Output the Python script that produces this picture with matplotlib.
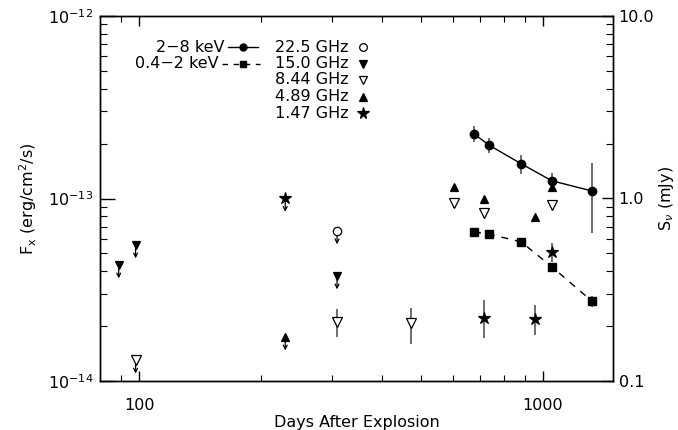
import matplotlib
matplotlib.use("Agg")
import matplotlib.pyplot as plt
from matplotlib.lines import Line2D
from matplotlib.ticker import FixedLocator, FixedFormatter, NullFormatter
import numpy as np

plt.rcParams['font.family'] = ['DejaVu Sans']
plt.rcParams['mathtext.fontset'] = 'dejavusans'

# ---------------- data ----------------
# X-ray 2-8 keV (erg/cm^2/s)
hard_days = [675, 735, 883, 1052, 1321]
hard_flux = [2.26e-13, 1.96e-13, 1.55e-13, 1.25e-13, 1.10e-13]
hard_lo = [2.04e-13, 1.77e-13, 1.36e-13, 1.11e-13, 6.5e-14]
hard_hi = [2.49e-13, 2.15e-13, 1.73e-13, 1.38e-13, 1.57e-13]

# X-ray 0.4-2 keV
soft_days = [675, 735, 883, 1052, 1321]
soft_flux = [6.55e-14, 6.38e-14, 5.78e-14, 4.22e-14, 2.74e-14]
soft_lo = [6.4e-14, 6.25e-14, 5.65e-14, 4.1e-14, 2.54e-14]
soft_hi = [6.7e-14, 6.5e-14, 5.9e-14, 4.35e-14, 2.92e-14]

# Radio (mJy)
r225_days = [309]
r225_flux = [0.664]
r225_upper = [True]

r150_days = [89, 98, 309]
r150_flux = [0.432, 0.556, 0.376]
r150_upper = [True, True, True]

r844_days = [98, 309, 471, 602, 715, 1055]
r844_flux = [0.130, 0.210, 0.208, 0.95, 0.834, 0.92]
r844_lo = [0.130, 0.174, 0.160, 0.89, 0.78, 0.866]
r844_hi = [0.130, 0.249, 0.252, 1.01, 0.89, 0.98]
r844_upper = [True, False, False, False, False, False]

r489_days = [230, 602, 715, 955, 1055]
r489_flux = [0.174, 1.156, 0.993, 0.79, 1.156]
r489_upper = [True, False, False, False, False]

r147_days = [230, 715, 955, 1055]
r147_flux = [1.0, 0.221, 0.219, 0.511]
r147_lo = [1.0, 0.172, 0.178, 0.45]
r147_hi = [1.0, 0.278, 0.26, 0.57]
r147_upper = [True, False, False, False]

x_ticks = [100, 1000]
x_tick_labels = ["100", "1000"]
f_ticks = [1e-14, 1e-13, 1e-12]
f_tick_labels = [r"$10^{-14}$", r"$10^{-13}$", r"$10^{-12}$"]
s_ticks = [0.1, 1.0, 10.0]
s_tick_labels = ["0.1", "1.0", "10.0"]

# ---------------- figure ----------------
W, H = 678, 430
fig = plt.figure(figsize=(W / 100, H / 100), dpi=100)
L, R, T, B = 100, 613, 16, 381
ax = fig.add_axes([L / W, 1 - B / H, (R - L) / W, (B - T) / H])
ax.set_xscale('log')
ax.set_yscale('log')
ax.set_xlim(80, 1490)
ax.set_ylim(1e-14, 1e-12)
ax2 = ax.twinx()
ax2.set_yscale('log')
ax2.set_ylim(0.1, 10)

ERRC = '#555555'
FS = 11.5

# X-ray
ax.plot(hard_days, hard_flux, '-', color='black', lw=1.0, zorder=3)
ax.errorbar(hard_days, hard_flux,
            yerr=[np.array(hard_flux) - np.array(hard_lo), np.array(hard_hi) - np.array(hard_flux)],
            fmt='o', ms=6, color='black', ecolor=ERRC, elinewidth=1.2, capsize=0, zorder=4)
ax.plot(soft_days, soft_flux, color='black', lw=1.0, ls=(0, (5, 5)), zorder=3)
ax.errorbar(soft_days, soft_flux,
            yerr=[np.array(soft_flux) - np.array(soft_lo), np.array(soft_hi) - np.array(soft_flux)],
            fmt='s', ms=5.5, color='black', ecolor=ERRC, elinewidth=1.2, capsize=0, zorder=4)


def radio(days, flux, upper, marker, ms, filled, lo=None, hi=None):
    days = np.array(days, float)
    flux = np.array(flux, float)
    upper = np.array(upper, bool)
    if lo is not None:
        lo = np.array(lo, float)
        hi = np.array(hi, float)
        det = ~upper
        ax2.errorbar(days[det], flux[det], yerr=[flux[det] - lo[det], hi[det] - flux[det]],
                     fmt='none', ecolor=ERRC, elinewidth=1.2, capsize=0, zorder=3)
    for d, f, u in zip(days, flux, upper):
        if u:
            ax2.annotate('', xy=(d, f * 0.845), xytext=(d, f), xycoords='data', textcoords='data',
                         arrowprops=dict(arrowstyle='->', lw=0.9, color='black',
                                         shrinkA=0, shrinkB=0, mutation_scale=7), zorder=3)
    ax2.plot(days, flux, ls='none', marker=marker, ms=ms,
             mfc='black' if filled else 'white', mec='black', mew=0.9, zorder=4)


radio(r225_days, r225_flux, r225_upper, 'o', 6, False)
radio(r150_days, r150_flux, r150_upper, 'v', 6, True)
radio(r844_days, r844_flux, r844_upper, 'v', 6.5, False, r844_lo, r844_hi)
radio(r489_days, r489_flux, r489_upper, '^', 6, True)
radio(r147_days, r147_flux, r147_upper, '*', 9, True, r147_lo, r147_hi)

# ---------------- axes styling ----------------
def minor_in(lo, hi):
    vals = []
    for dec in range(int(np.floor(np.log10(lo))), int(np.ceil(np.log10(hi))) + 1):
        for m in range(2, 10):
            v = m * 10.0 ** dec
            if lo < v < hi:
                vals.append(v)
    return vals


ax.xaxis.set_major_locator(FixedLocator(x_ticks))
ax.xaxis.set_major_formatter(FixedFormatter(x_tick_labels))
ax.xaxis.set_minor_locator(FixedLocator(minor_in(80, 1490)))
ax.xaxis.set_minor_formatter(NullFormatter())

ax.yaxis.set_major_locator(FixedLocator(f_ticks))
ax.yaxis.set_major_formatter(FixedFormatter(f_tick_labels))
ax.yaxis.set_minor_locator(FixedLocator(minor_in(1e-14, 1e-12)))
ax.yaxis.set_minor_formatter(NullFormatter())

ax2.yaxis.set_major_locator(FixedLocator(s_ticks))
ax2.yaxis.set_major_formatter(FixedFormatter(s_tick_labels))
ax2.yaxis.set_minor_locator(FixedLocator(minor_in(0.1, 10)))
ax2.yaxis.set_minor_formatter(NullFormatter())

for a in (ax, ax2):
    for sp in a.spines.values():
        sp.set_linewidth(1.0)
ax.tick_params(axis='x', which='both', direction='in', top=True, bottom=True, labelsize=FS, pad=12)
ax.tick_params(axis='x', which='major', length=7, width=1.0)
ax.tick_params(axis='x', which='minor', length=4, width=0.8)
ax.tick_params(axis='y', which='both', direction='in', left=True, right=False, labelsize=FS, pad=5)
ax.tick_params(axis='y', which='major', length=11, width=1.0)
ax.tick_params(axis='y', which='minor', length=5, width=0.8)
ax2.tick_params(axis='y', which='both', direction='in', labelsize=FS, pad=4)
ax2.tick_params(axis='y', which='major', length=8, width=1.0)
ax2.tick_params(axis='y', which='minor', length=5, width=0.8)

ax.set_xlabel('Days After Explosion', fontsize=FS, labelpad=2)
ax.set_ylabel(r'F$_{\rm x}$ (erg/cm$^{2}$/s)', fontsize=FS, labelpad=6)
ax2.set_ylabel(r'S$_{\nu}$ (mJy)', fontsize=FS, labelpad=2)


# ---------------- custom legend ----------------
def fx(px):
    return px / W


def fy(py):
    return 1 - py / H


rows = [47, 63.5, 80, 96.5, 113]
fig.text(fx(225), fy(rows[0]), '2\u22128 keV', ha='right', va='center', fontsize=FS)
fig.text(fx(219), fy(rows[1]), '0.4\u22122 keV', ha='right', va='center', fontsize=FS)
fig.add_artist(Line2D([fx(228), fx(258)], [fy(rows[0])] * 2, color='black', lw=1.0,
                      transform=fig.transFigure))
fig.add_artist(Line2D([fx(243)], [fy(rows[0])], marker='o', ms=5, color='black', ls='none',
                      transform=fig.transFigure))
fig.add_artist(Line2D([fx(222), fx(260)], [fy(rows[1])] * 2, color='black', lw=1.0, ls=(0, (4, 4)),
                      transform=fig.transFigure))
fig.add_artist(Line2D([fx(243)], [fy(rows[1])], marker='s', ms=5, color='black', ls='none',
                      transform=fig.transFigure))

radio_labels = ['22.5 GHz', '15.0 GHz', '8.44 GHz', '4.89 GHz', '1.47 GHz']
radio_markers = [('o', 5.5, False), ('v', 5.5, True), ('v', 5.5, False), ('^', 5.5, True), ('*', 8.5, True)]
for lab, (mk, ms, filled), yy in zip(radio_labels, radio_markers, rows):
    fig.text(fx(275), fy(yy), lab, ha='left', va='center', fontsize=FS)
    fig.add_artist(Line2D([fx(363)], [fy(yy)], marker=mk, ms=ms, ls='none',
                          mfc='black' if filled else 'white', mec='black', mew=0.9,
                          transform=fig.transFigure))

fig.savefig('out.png', dpi=100)
